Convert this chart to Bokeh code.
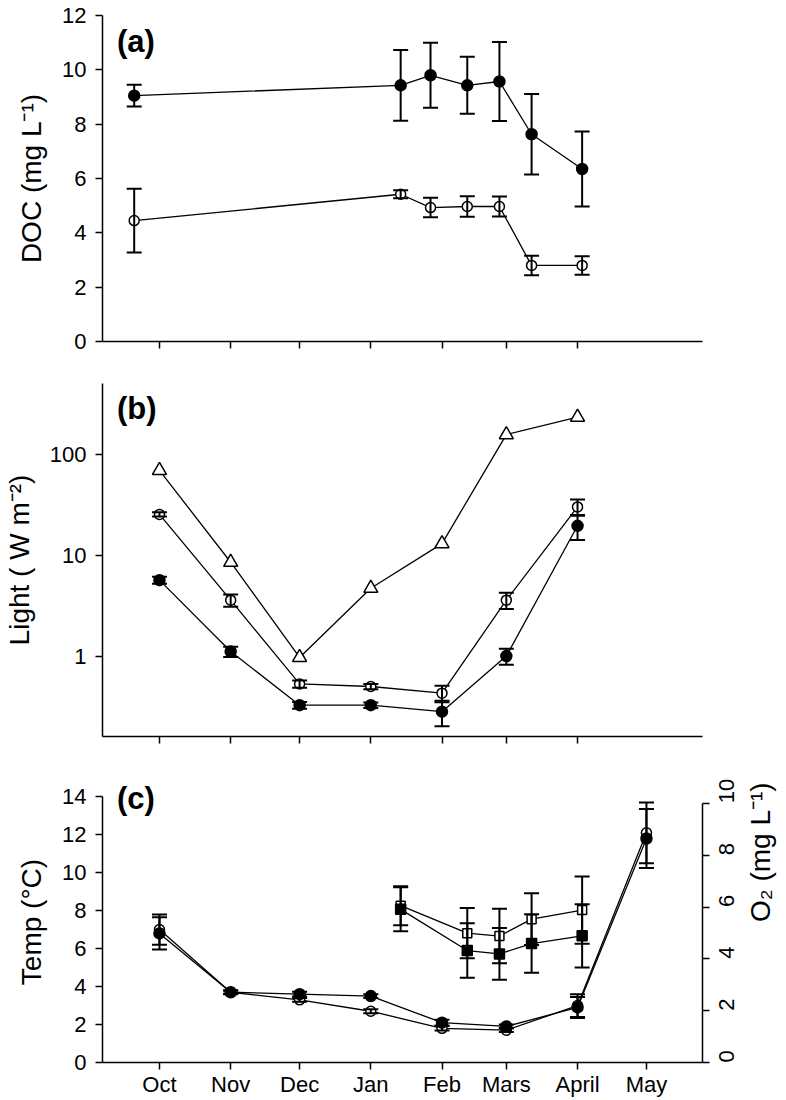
import math
from bokeh.plotting import figure
from bokeh.models import (Range1d, LinearAxis, FixedTicker, Whisker, TeeHead,
                          ColumnDataSource, Label, BasicTickFormatter)
from bokeh.layouts import column
from bokeh.embed import file_html
from bokeh.resources import INLINE

# ---------------- data ----------------
# x positions are days counted from 1 October
month_days = [0, 31, 61, 92, 123, 151, 182, 212]
month_labels = ["Oct", "Nov", "Dec", "Jan", "Feb", "Mars", "April", "May"]

# (a) DOC
doc_days = [-11, 105, 118, 134, 148, 162, 184]
doc_filled = [9.05, 9.43, 9.8, 9.43, 9.57, 7.63, 6.35]
doc_filled_se = [0.4, 1.3, 1.2, 1.05, 1.45, 1.48, 1.38]
doc_open = [4.45, 5.42, 4.93, 4.97, 4.97, 2.8, 2.8]
doc_open_se = [1.17, 0.15, 0.36, 0.38, 0.37, 0.36, 0.34]

# (b) Light
light_days = [0, 31, 61, 92, 123, 151, 182]
light_tri = [69, 8.5, 0.97, 4.7, 13, 156, 232]
light_open = [25.3, 3.58, 0.53, 0.50, 0.43, 3.58, 30]
light_open_se = [1.2, 0.5, 0.045, 0.03, 0.08, 0.65, 5.5]
light_filled = [5.65, 1.11, 0.327, 0.327, 0.282, 1.0, 19.5]
light_filled_se = [0.45, 0.13, 0.025, 0.02, 0.08, 0.18, 5.4]

# (c) Temperature and O2
temp_days = [0, 31, 61, 92, 123, 151, 182, 212]
temp_open = [7.0, 3.7, 3.3, 2.7, 1.8, 1.7, 3.0, 12.1]
temp_open_se = [0.8, 0.08, 0.1, 0.1, 0.12, 0.1, 0.6, 1.6]
temp_filled = [6.8, 3.7, 3.6, 3.5, 2.1, 1.9, 2.9, 11.8]
temp_filled_se = [0.85, 0.1, 0.12, 0.1, 0.15, 0.1, 0.55, 1.55]

o2_days = [105, 134, 148, 162, 184]
o2_open = [6.05, 4.99, 4.88, 5.53, 5.88]
o2_open_se = [0.75, 0.97, 1.05, 1.0, 1.3]
o2_filled = [5.91, 4.32, 4.19, 4.59, 4.89]
o2_filled_se = [0.85, 1.05, 1.0, 1.13, 1.22]

FONT = "Liberation Sans"
X_RANGE = (-24.8, 236.4)


def make_fig(frame_h, top, bottom, y_range, y_type="linear", right=78):
    p = figure(frame_width=600, frame_height=frame_h,
               x_range=Range1d(*X_RANGE), y_range=y_range, y_axis_type=y_type,
               output_backend="svg", toolbar_location=None,
               min_border_left=92, min_border_right=right,
               min_border_top=top, min_border_bottom=bottom)
    p.outline_line_color = None
    p.grid.visible = False
    p.background_fill_color = "white"
    p.border_fill_color = "white"
    return p


def style_axis(ax):
    ax.axis_line_width = 1.5
    ax.axis_line_color = "black"
    ax.major_tick_line_width = 1.5
    ax.major_tick_line_color = "black"
    ax.major_tick_out = 7
    ax.major_tick_in = 0
    ax.minor_tick_out = 0
    ax.minor_tick_in = 0
    ax.minor_tick_line_color = None
    ax.major_label_text_font = FONT
    ax.major_label_text_font_size = "22px"
    ax.major_label_text_color = "black"
    ax.major_label_standoff = 9
    ax.axis_label_text_font = FONT
    ax.axis_label_text_font_size = "28px"
    ax.axis_label_text_font_style = "normal"
    ax.axis_label_text_color = "black"
    ax.axis_label_standoff = 12


def errbars(p, x, y, se, range_name=None):
    src = ColumnDataSource(dict(x=x,
                                lo=[a - b for a, b in zip(y, se)],
                                hi=[a + b for a, b in zip(y, se)]))
    kw = {}
    if range_name:
        kw["y_range_name"] = range_name
    w = Whisker(base="x", upper="hi", lower="lo", source=src, dimension="height",
                line_width=2, line_color="black",
                upper_head=TeeHead(size=15, line_width=2, line_color="black"),
                lower_head=TeeHead(size=15, line_width=2, line_color="black"),
                level="overlay", **kw)
    p.add_layout(w)


def series(p, x, y, marker, filled, size, range_name=None):
    kw = {}
    if range_name:
        kw["y_range_name"] = range_name
    p.line(x, y, line_color="black", line_width=1.3, **kw)
    p.scatter(x, y, marker=marker, size=size,
              fill_color="black" if filled else "white",
              line_color="black", line_width=1.5, **kw)


def panel_label(p, txt, x, y):
    p.add_layout(Label(x=x, y=y, text=txt, text_font=FONT, text_font_size="31px",
                       text_font_style="bold", text_baseline="middle",
                       text_align="left", text_color="black"))


def blank_x_labels(ax, ticks):
    ax.ticker = FixedTicker(ticks=ticks)
    ax.major_label_overrides = {t: "" for t in ticks}


# ---------------- panel (a) ----------------
pa = make_fig(326, 15, 18, Range1d(0, 12))
style_axis(pa.xaxis[0])
style_axis(pa.yaxis[0])
blank_x_labels(pa.xaxis[0], month_days[:7])
pa.yaxis.ticker = FixedTicker(ticks=[0, 2, 4, 6, 8, 10, 12])
pa.yaxis.axis_label = "DOC (mg L\u207b\u00b9)"
series(pa, doc_days, doc_filled, "circle", True, 11)
series(pa, doc_days, doc_open, "circle", False, 10)
errbars(pa, doc_days, doc_filled, doc_filled_se)
errbars(pa, doc_days, doc_open, doc_open_se)
panel_label(pa, "(a)", -18.5, 11.05)

# ---------------- panel (b) ----------------
pb = make_fig(353, 24, 22, Range1d(0.16, 500), "log")
style_axis(pb.xaxis[0])
style_axis(pb.yaxis[0])
blank_x_labels(pb.xaxis[0], month_days[:7])
pb.yaxis.ticker = FixedTicker(ticks=[1, 10, 100])
pb.yaxis.formatter = BasicTickFormatter()
pb.yaxis.axis_label = "Light ( W m\u207b\u00b2)"
series(pb, light_days, light_tri, "triangle", False, 14)
series(pb, light_days, light_open, "circle", False, 10)
series(pb, light_days, light_filled, "circle", True, 11)
errbars(pb, light_days, light_open, light_open_se)
errbars(pb, light_days, light_filled, light_filled_se)
panel_label(pb, "(b)", -18.5, 280)

# ---------------- panel (c) ----------------
TOP_C = 14.8
pc = make_fig(281, 23, 26, Range1d(0, TOP_C), right=84)
pc.extra_y_ranges = {"o2": Range1d(0, TOP_C / 13.65 * 10)}
style_axis(pc.xaxis[0])
style_axis(pc.yaxis[0])
pc.yaxis.bounds = (0, 14)
pc.xaxis.ticker = FixedTicker(ticks=month_days)
pc.xaxis.major_label_overrides = {d: m for d, m in zip(month_days, month_labels)}
pc.xaxis.major_label_standoff = 2
pc.yaxis.ticker = FixedTicker(ticks=[0, 2, 4, 6, 8, 10, 12, 14])
pc.yaxis.axis_label = "Temp (\u00b0C)"
rax = LinearAxis(y_range_name="o2", bounds=(0, 10))
style_axis(rax)
rax.ticker = FixedTicker(ticks=[0, 2, 4, 6, 8, 10])
rax.major_label_orientation = math.pi / 2
rax.major_label_standoff = 17
rax.axis_label = "O\u2082 (mg L\u207b\u00b9)"
rax.axis_label_standoff = 16
rax.axis_label_orientation = math.pi / 2
pc.add_layout(rax, "right")

series(pc, temp_days, temp_open, "circle", False, 10)
series(pc, temp_days, temp_filled, "circle", True, 11)
errbars(pc, temp_days, temp_open, temp_open_se)
errbars(pc, temp_days, temp_filled, temp_filled_se)
series(pc, o2_days, o2_open, "square", False, 9, "o2")
series(pc, o2_days, o2_filled, "square", True, 10, "o2")
errbars(pc, o2_days, o2_open, o2_open_se, "o2")
errbars(pc, o2_days, o2_filled, o2_filled_se, "o2")
panel_label(pc, "(c)", -18.5, 13.9)

layout = column(pa, pb, pc, spacing=0)
open("out.html", "w").write(file_html(layout, INLINE))
